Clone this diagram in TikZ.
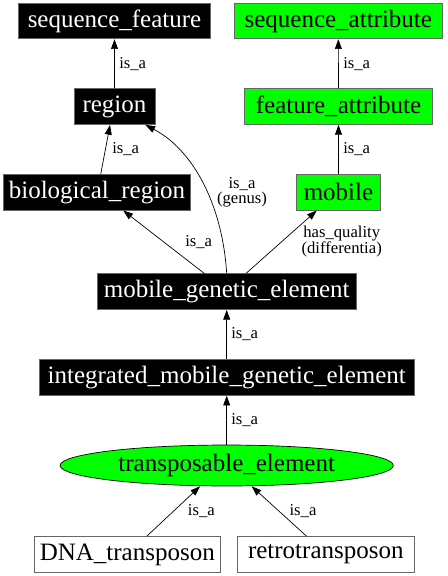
\documentclass[tikz,border=0pt]{standalone}
\usepackage{fontspec}
\setmainfont{Liberation Serif}
\usetikzlibrary{arrows.meta,shapes.geometric}
\definecolor{gvgreen}{HTML}{00FF00}
\definecolor{gvgray}{HTML}{666666}
\tikzset{
  base/.style={rectangle,inner sep=0pt,minimum height=25.7pt,font=\fontsize{18}{20}\selectfont,line width=0.6pt},
  blk/.style={base,fill=black,draw=gvgray,text=white},
  grn/.style={base,fill=gvgreen,draw=gvgray,text=black},
  wht/.style={base,fill=white,draw=gvgray,text=black},
  arr/.style={-{Triangle[length=7pt,width=5pt]},line width=0.5pt},
  lab/.style={inner sep=0pt,font=\fontsize{12}{11}\selectfont,align=center}
}
\begin{document}
\begin{tikzpicture}[x=0.72pt,y=-0.72pt]
\useasboundingbox (0,0) rectangle (447,576);
\node[blk,minimum width=138.5pt] (sf) at (114.5,21) {sequence\_feature};
\node[blk,minimum width=58.3pt] (reg) at (114.5,106.7) {region};
\node[grn,minimum width=149.8pt] (sa) at (338.3,21) {sequence\_attribute};
\node[grn,minimum width=134.9pt] (fa) at (338.5,106.7) {feature\_attribute};
\node[blk,minimum width=135.1pt] (bio) at (97,192.3) {biological\_region};
\node[grn,minimum width=60.2pt] (mob) at (338.5,192.3) {mobile};
\node[blk,minimum width=186.7pt] (mge) at (226.7,291.7) {mobile\_genetic\_element};
\node[blk,minimum width=269.6pt] (imge) at (226.7,377.5) {integrated\_mobile\_genetic\_element};
\node[ellipse,inner sep=0pt,minimum width=240pt,minimum height=29.5pt,fill=gvgreen,draw=black,line width=0.5pt,font=\fontsize{18}{20}\selectfont] (te) at (226.7,465.5) {transposable\_element};
\node[wht,minimum width=133.4pt] (dna) at (127.3,554.5) {DNA\_transposon};
\node[wht,minimum width=127.4pt] (retro) at (325.8,554.5) {retrotransposon};

\draw[arr] (reg) -- (sf);
\draw[arr] (fa) -- (sa);
\draw[arr] (mob) -- (fa);
\draw[arr] ([xshift=2.7pt]bio.north) -- ([xshift=-3.2pt]reg.south);
\draw[arr] (mge.north) .. controls (222,200) and (190,148) .. ([xshift=-7.2pt]reg.south east);
\draw[arr] ([xshift=-16.1pt]mge.north) -- ([xshift=18.9pt]bio.south);
\draw[arr] ([xshift=13.9pt]mge.north) -- ([xshift=-15.7pt]mob.south);
\draw[arr] (imge) -- (mge);
\draw[arr] (te) -- (imge);
\draw[arr] ([xshift=14pt]dna.north) -- ([xshift=-19.2pt]te.south);
\draw[arr] ([xshift=-13.8pt]retro.north) -- ([xshift=18pt]te.south);

\node[lab,anchor=west] (l1) at (119,64) {is\_a};
\node[lab,anchor=west] (l2) at (343,64) {is\_a};
\node[lab,anchor=west] (l3) at (112,149) {is\_a};
\node[lab,anchor=west] (l4) at (343,149) {is\_a};
\node[lab] (l5) at (242,192) {is\_a\\(genus)};
\node[lab,anchor=west] (l6) at (185,242) {is\_a};
\node[lab] (l7) at (341.7,241.5) {has\_quality\\(differentia)};
\node[lab,anchor=west] (l8) at (231,334) {is\_a};
\node[lab,anchor=west] (l9) at (231,420) {is\_a};
\node[lab,anchor=west] (l10) at (187.7,511) {is\_a};
\node[lab,anchor=west] (l11) at (289.3,511) {is\_a};
\end{tikzpicture}
\end{document}
